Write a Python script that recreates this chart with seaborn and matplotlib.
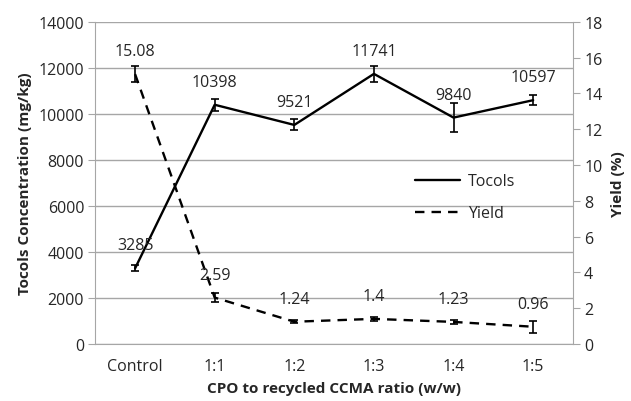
import numpy as np
import pandas as pd
import matplotlib.pyplot as plt
from matplotlib.lines import Line2D
import seaborn as sns

ratios = ['Control', '1:1', '1:2', '1:3', '1:4', '1:5']
tocols = [3285, 10398, 9521, 11741, 9840, 10597]
tocols_err = [130, 260, 240, 350, 630, 230]
yields = [15.08, 2.59, 1.24, 1.4, 1.23, 0.96]
yield_err = [0.45, 0.25, 0.08, 0.12, 0.12, 0.33]

df = pd.DataFrame({'ratio': ratios, 'tocols': tocols, 'yield': yields})

sns.set_style('white')
plt.rcParams['font.family'] = ['Open Sans', 'DejaVu Sans']
grey = '#a6a6a6'
fs = 11.5

fig, ax = plt.subplots(figsize=(6.31, 4.02), dpi=100)
fig.subplots_adjust(left=0.151, right=0.908, bottom=0.142, top=0.943)
ax2 = ax.twinx()

pos = np.arange(len(ratios))
sns.lineplot(x=pos, y=df['tocols'], ax=ax, color='black', lw=1.7, legend=False)
ax.errorbar(pos, tocols, yerr=tocols_err, fmt='none', ecolor='black', capsize=3, elinewidth=1.2, capthick=1.2)
sns.lineplot(x=pos, y=df['yield'], ax=ax2, color='black', lw=1.7, legend=False)
ax2.lines[0].set_dashes([4, 3])
ax2.errorbar(pos, yields, yerr=yield_err, fmt='none', ecolor='black', capsize=3, elinewidth=1.2, capthick=1.2)

for i, v in enumerate(tocols):
    ax.annotate(str(v), (i, v), xytext=(0, 23), textcoords='offset pixels', ha='center', va='center', fontsize=fs)
for i, v in enumerate(yields):
    ax2.annotate(str(v), (i, v), xytext=(0, 23), textcoords='offset pixels', ha='center', va='center', fontsize=fs)

ax.set_xlim(-0.5, len(ratios) - 0.5)
ax.set_ylim(0, 14000)
ax2.set_ylim(0, 18)
ax.set_yticks(range(0, 14001, 2000))
ax2.set_yticks(range(0, 19, 2))
ax.set_xticks(pos)
ax.set_xticklabels(ratios)
ax.set_xticks(np.arange(-0.5, len(ratios)), minor=True)

ax.yaxis.grid(True, color=grey, lw=1)
ax.set_axisbelow(True)

for a in (ax, ax2):
    a.spines['top'].set_visible(False)
    for s in ('left', 'right', 'bottom'):
        a.spines[s].set_color(grey)
ax.spines['right'].set_visible(False)
ax2.spines['left'].set_visible(False)
ax2.spines['bottom'].set_visible(False)

ax.tick_params(axis='x', which='major', length=0, pad=10, labelsize=fs)
ax.tick_params(axis='x', which='minor', length=5, color=grey, direction='out')
ax.tick_params(axis='y', length=5, color=grey, direction='out', labelsize=fs, pad=3)
ax2.tick_params(axis='y', length=5, color=grey, direction='out', labelsize=fs, pad=3)

ax.set_xlabel('CPO to recycled CCMA ratio (w/w)', fontsize=fs - 0.5, fontweight='bold', labelpad=5)
ax.set_ylabel('Tocols Concentration (mg/kg)', fontsize=fs - 0.5, fontweight='bold', labelpad=5)
ax2.set_ylabel('Yield (%)', fontsize=fs - 0.5, fontweight='bold', labelpad=6)

handles = [Line2D([], [], color='black', lw=1.7, label='Tocols'),
           Line2D([], [], color='black', lw=1.7, dashes=[4, 3], label='Yield')]
ax2.legend(handles=handles, loc='center left', bbox_to_anchor=(0.64, 0.455), frameon=False,
           handlelength=2.8, labelspacing=1.0, handletextpad=0.5, fontsize=fs)

plt.savefig('out.png', dpi=100)
